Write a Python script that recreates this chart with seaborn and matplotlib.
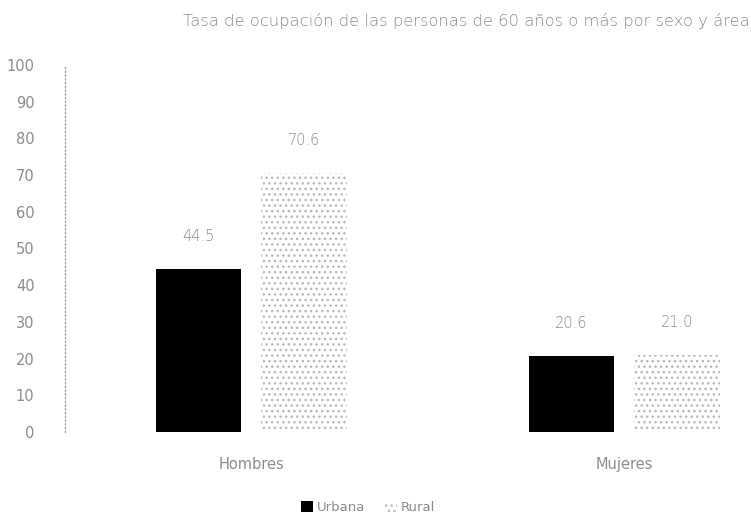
import matplotlib
matplotlib.use("Agg")
import matplotlib.pyplot as plt
from matplotlib.patches import Patch
import seaborn as sns
import pandas as pd

# Employment rate of people aged 60+ by sex and area
sexos = ["Hombres", "Mujeres"]
areas = ["Urbana", "Rural"]
urbana = [44.5, 20.6]
rural = [70.6, 21.0]
y_ticks = [0, 10, 20, 30, 40, 50, 60, 70, 80, 90, 100]

df = pd.DataFrame({
    "sexo": sexos * 2,
    "area": [areas[0]] * len(sexos) + [areas[1]] * len(sexos),
    "tasa": urbana + rural,
})

sns.set_theme(style="white")
plt.rcParams["font.family"] = ["DejaVu Sans"]
text_color = "#8c8c8c"

fig = plt.figure(figsize=(7.51, 5.20), dpi=100)
ax = fig.add_axes([65 / 751, 88 / 520, (751 - 65) / 751, (432 - 65) / 520])

sns.barplot(data=df, x="sexo", y="tasa", hue="area", order=sexos,
            hue_order=areas, palette=["#000000", "#ffffff"],
            width=0.566, gap=0.19, ax=ax, legend=False, saturation=1)

# Urbana bars solid black; Rural bars white with a grey stipple
for bar, area in zip(ax.patches, [areas[0]] * 2 + [areas[1]] * 2):
    if area == "Rural":
        bar.set_facecolor("white")
        bar.set_edgecolor("#b8b8b8")
        bar.set_hatch("...")
        bar.set_linewidth(0)
    else:
        bar.set_edgecolor("black")
        bar.set_linewidth(0)

for container in ax.containers:
    ax.bar_label(container, fmt="%.1f", padding=18, color=text_color,
                 fontsize=10.5, fontweight="light")

ax.set_xlim(-0.5, 1.34)
ax.set_ylim(0, 100)
ax.set_yticks(y_ticks)
ax.tick_params(axis="y", colors=text_color, labelsize=10.5, pad=22, length=0)
ax.tick_params(axis="x", colors=text_color, labelsize=10.5, pad=18, length=0)
ax.set_xlabel("")
ax.set_ylabel("")

for side in ["top", "right", "bottom"]:
    ax.spines[side].set_visible(False)
ax.spines["left"].set_color("#9a9a9a")
ax.spines["left"].set_linestyle((0, (1, 2)))
ax.spines["left"].set_linewidth(0.9)

fig.text(183 / 751, 0.975, "Tasa de ocupación de las personas de 60 años o más por sexo y área",
         ha="left", va="top", color=text_color, fontsize=11.8, fontweight="light")

handles = [Patch(facecolor="black", edgecolor="black", linewidth=0),
           Patch(facecolor="white", edgecolor="#b8b8b8", hatch="...", linewidth=0)]
leg = fig.legend(handles, areas, loc="lower center", bbox_to_anchor=(0.49, -0.012),
                 ncol=2, frameon=False, fontsize=9.5, handlelength=0.9,
                 handleheight=0.9, handletextpad=0.3, columnspacing=1.5)
for t in leg.get_texts():
    t.set_color(text_color)

fig.savefig("out.png", dpi=100)
